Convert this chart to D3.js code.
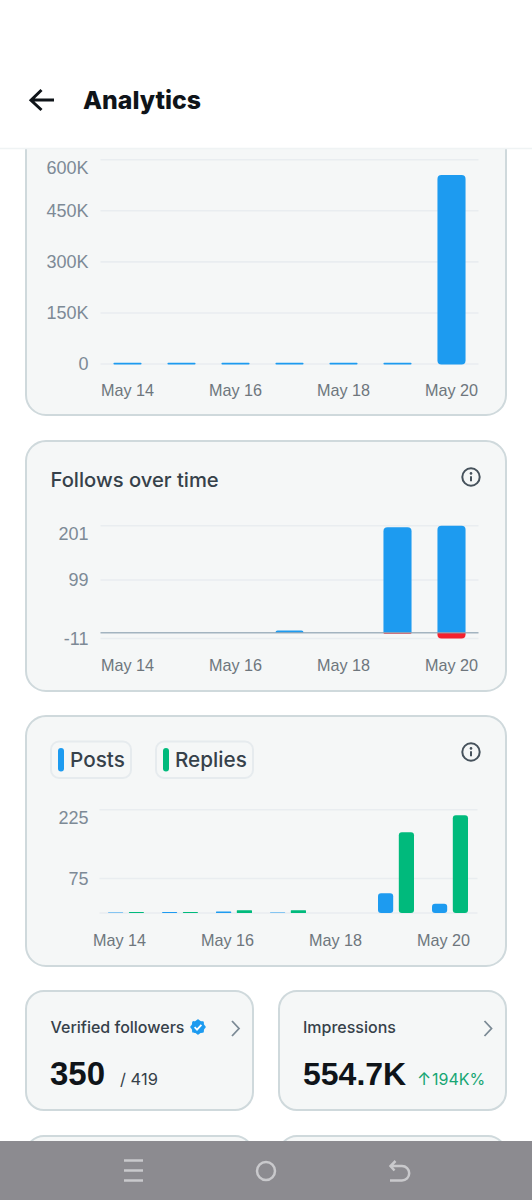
<!DOCTYPE html>
<html>
<head>
<meta charset="utf-8">
<title>Analytics</title>
<script src="https://cdn.jsdelivr.net/npm/d3@7"></script>
<style>
   html, body { margin: 0; padding: 0; background: #fff; }
   svg { display: block; font-family: Inter, "Noto Sans", sans-serif; }
   .card { fill: #f5f7f7; stroke: #cfd9dc; stroke-width: 2; }
   .grid { stroke: #e9edf0; stroke-width: 1.6; }
   .ylab { fill: #7d8a96; font-size: 18px; }
   .xlab { fill: #6e767d; font-size: 16.2px; }
</style>
</head>
<body>
<svg id="phone" width="532" height="1200"></svg>
<script>
var days = ["May 14", "May 15", "May 16", "May 17", "May 18", "May 19", "May 20"];
var dayTicks = ["May 14", "May 16", "May 18", "May 20"];

var impressions = [300, 300, 300, 300, 300, 4000, 554700];
var impressionTicks = [0, 150000, 300000, 450000, 600000];
var impressionLabels = ["0", "150K", "300K", "450K", "600K"];

var follows = [0, 0, 0, 4, 0, 198, 201];
var unfollows = [0, 0, 0, 0, 0, -2, -11];
var followTicks = [-11, 99, 201];

var posts = [1, 2, 3, 1, 0, 43, 20];
var replies = [2, 2, 6, 6, 0, 176, 213];
var postTicks = [0, 75, 225];

var blue = "#1d9bf0";
var green = "#00ba7c";
var red = "#f4212e";
var ink = "#0f1419";
var slate = "#36414a";

var svg = d3.select("#phone");

function text(x, y, str, size, weight, color, anchor) {
   return svg.append("text")
      .attr("x", x)
      .attr("y", y)
      .attr("font-size", size)
      .attr("font-weight", weight)
      .attr("fill", color)
      .attr("text-anchor", anchor || "start")
      .text(str);
}

function card(x, y, w, h, r) {
   svg.append("rect")
      .attr("class", "card")
      .attr("x", x).attr("y", y)
      .attr("width", w).attr("height", h)
      .attr("rx", r);
}

// gridlines and tick labels, first = top label gets pushed down inside the plot
function axes(g, x, y, yTicks, yLabels, xBase, xShift) {
   var yAxis = d3.axisLeft(y)
      .tickValues(yTicks)
      .tickSize(0)
      .tickPadding(0)
      .tickFormat(function(d, i) { return yLabels ? yLabels[i] : d; });
   var yg = g.append("g")
      .attr("transform", "translate(88.5,0)")
      .call(yAxis);
   yg.select(".domain").remove();
   yg.selectAll("text")
      .attr("class", "ylab")
      .attr("dy", function(d) { return d == d3.max(yTicks) ? "0.78em" : "0.33em"; });

   g.selectAll(".grid")
      .data(yTicks)
      .enter().append("line")
      .attr("class", "grid")
      .attr("x1", x.range()[0])
      .attr("x2", x.range()[1])
      .attr("y1", function(d) { return y(d); })
      .attr("y2", function(d) { return y(d); });

   var xAxis = d3.axisBottom(x)
      .tickValues(dayTicks)
      .tickSize(0)
      .tickPadding(0);
   var xg = g.append("g")
      .attr("transform", "translate(" + xShift + "," + xBase + ")")
      .call(xAxis);
   xg.select(".domain").remove();
   xg.selectAll("text")
      .attr("class", "xlab")
      .attr("dy", "0.36em");
}

function infoIcon(cx, cy) {
   var iconColor = "#46525c";
   svg.append("circle")
      .attr("cx", cx).attr("cy", cy).attr("r", 8.7)
      .attr("fill", "none").attr("stroke", iconColor).attr("stroke-width", 2);
   svg.append("circle")
      .attr("cx", cx).attr("cy", cy - 3.6).attr("r", 1.3)
      .attr("fill", iconColor);
   svg.append("line")
      .attr("x1", cx).attr("x2", cx)
      .attr("y1", cy - 0.8).attr("y2", cy + 4.2)
      .attr("stroke", iconColor).attr("stroke-width", 2);
}

// bar with only one end rounded (the follows chart sits on a baseline)
function capBar(x, w, yFlat, yEnd, r) {
   var p = d3.path();
   var s = yEnd < yFlat ? 1 : -1;
   var rr = Math.min(r, Math.abs(yFlat - yEnd));
   p.moveTo(x, yFlat);
   p.lineTo(x, yEnd + s * rr);
   p.quadraticCurveTo(x, yEnd, x + rr, yEnd);
   p.lineTo(x + w - rr, yEnd);
   p.quadraticCurveTo(x + w, yEnd, x + w, yEnd + s * rr);
   p.lineTo(x + w, yFlat);
   p.closePath();
   return p.toString();
}

// ---- impressions chart
card(26, 100, 480, 315, 20);
var g1 = svg.append("g");
var x1 = d3.scaleBand().domain(days).range([100.5, 478.5]).paddingInner(0.48).paddingOuter(0.24);
var y1 = d3.scaleLinear().domain([0, 600000]).range([364, 159.7]);
axes(g1, x1, y1, impressionTicks, impressionLabels, 390, 0);
g1.selectAll(".bar")
   .data(impressions)
   .enter().append("rect")
   .attr("class", "bar")
   .attr("x", function(d, i) { return x1(days[i]); })
   .attr("width", x1.bandwidth())
   .attr("y", function(d) { return Math.min(y1(d), 362.8); })
   .attr("height", function(d) { return Math.max(364.5 - y1(d), 1.7); })
   .attr("rx", function(d) { return d > 100000 ? 4 : 0.8; })
   .attr("fill", blue);

// ---- follows chart
card(26, 441, 480, 250, 20);
text(50.5, 487, "Follows over time", 20.2, 500, slate);
infoIcon(471, 477);
var g2 = svg.append("g");
var x2 = d3.scaleBand().domain(days).range([100.5, 478.5]).paddingInner(0.48).paddingOuter(0.24);
var y2 = d3.scaleLinear().domain([-11, 201]).range([638.5, 525.7]);
axes(g2, x2, y2, followTicks, null, 665, 0);
g2.selectAll(".gain")
   .data(follows)
   .enter().append("path")
   .attr("class", "gain")
   .attr("fill", blue)
   .attr("d", function(d, i) {
      return d > 0 ? capBar(x2(days[i]), x2.bandwidth(), y2(0), y2(d), 4) : null;
   });
g2.selectAll(".loss")
   .data(unfollows)
   .enter().append("path")
   .attr("class", "loss")
   .attr("fill", red)
   .attr("d", function(d, i) {
      return d < 0 ? capBar(x2(days[i]), x2.bandwidth(), y2(0), y2(d), 4) : null;
   });
g2.append("line")
   .attr("x1", 100.5).attr("x2", 478.5)
   .attr("y1", y2(0)).attr("y2", y2(0))
   .attr("stroke", "#8ea2b2").attr("stroke-opacity", 0.8).attr("stroke-width", 1.5);

// ---- posts and replies chart
card(26, 716, 480, 250, 20);
var chips = [
   { name: "Posts", x: 51, w: 80, color: blue },
   { name: "Replies", x: 156, w: 97, color: green }
];
chips.forEach(function(item) {
   svg.append("rect")
      .attr("x", item.x).attr("y", 741.5)
      .attr("width", item.w).attr("height", 36.5).attr("rx", 8)
      .attr("fill", "#f5f7f7").attr("stroke", "#e6ebee").attr("stroke-width", 2);
   svg.append("rect")
      .attr("x", item.x + 7).attr("y", 748)
      .attr("width", 6).attr("height", 23.5).attr("rx", 3)
      .attr("fill", item.color);
   text(item.x + 19, 767, item.name, 20.7, 500, slate);
});
infoIcon(471, 752);
var g3 = svg.append("g");
var x3 = d3.scaleBand().domain(days).range([99.5, 477.5]).paddingInner(0).paddingOuter(0);
var y3 = d3.scaleLinear().domain([0, 225]).range([913, 809.7]);
var inner = d3.scaleBand().domain(["posts", "replies"]).range([8.5, 44.5]).paddingInner(0.27);
axes(g3, x3, y3, postTicks.filter(function(d) { return d > 0; }), null, 940, -7);
g3.append("line")
   .attr("class", "grid")
   .attr("x1", 99.5).attr("x2", 477.5)
   .attr("y1", y3(postTicks[0])).attr("y2", y3(postTicks[0]));

function groupedBars(values, key, color) {
   g3.selectAll("." + key)
      .data(values)
      .enter().append("rect")
      .attr("class", key)
      .attr("x", function(d, i) { return x3(days[i]) + inner(key); })
      .attr("width", inner.bandwidth())
      .attr("y", function(d) { return y3(d); })
      .attr("height", function(d) { return y3(0) - y3(d); })
      .attr("rx", function(d) { return d > 10 ? 3 : 0.5; })
      .attr("fill", color);
}
groupedBars(posts, "posts", blue);
groupedBars(replies, "replies", green);

// ---- stat cards
card(26, 991, 227, 119, 18);
card(279, 991, 227, 119, 18);
card(26, 1136, 227, 60, 18);
card(279, 1136, 227, 60, 18);

text(50.5, 1032.5, "Verified followers", 16, 500, slate);
text(303, 1032.5, "Impressions", 16, 500, slate);

// verified badge, scalloped edge
var badge = d3.lineRadial()
   .angle(function(d) { return d * Math.PI / 8; })
   .radius(function(d) { return d % 2 ? 6.6 : 7.8; })
   .curve(d3.curveCardinalClosed);
svg.append("path")
   .attr("d", badge(d3.range(16)))
   .attr("transform", "translate(198,1027)")
   .attr("fill", blue);
svg.append("path")
   .attr("d", "M194.6 1027.2l2.4 2.4l4.4-4.8")
   .attr("fill", "none").attr("stroke", "#fff").attr("stroke-width", 1.8);

[232, 484.5].forEach(function(x) {
   svg.append("path")
      .attr("d", "M" + x + " 1021l7 7.5l-7 7.5")
      .attr("fill", "none").attr("stroke", "#7b8a95").attr("stroke-width", 1.8);
});

text(50, 1085, "350", 33, 700, ink).attr("font-family", "Liberation Sans, Arial, sans-serif");
text(120, 1085, "/ 419", 16.5, 400, slate);
text(303, 1085, "554.7K", 32, 700, ink).attr("font-family", "Liberation Sans, Arial, sans-serif");
text(417, 1085, "↑", 17, 400, "#17a673");
text(432, 1085, "194K%", 16, 400, "#17a673");

// ---- app bar
svg.append("rect")
   .attr("x", 0).attr("y", 0)
   .attr("width", 532).attr("height", 148)
   .attr("fill", "#fff");
svg.append("line")
   .attr("x1", 0).attr("x2", 532)
   .attr("y1", 148.5).attr("y2", 148.5)
   .attr("stroke", "#eff3f4").attr("stroke-width", 1.5);
svg.append("path")
   .attr("d", "M54 100H31.5M41.5 90L31 100.3L41.5 110")
   .attr("fill", "none").attr("stroke", ink).attr("stroke-width", 3);
text(83, 109, "Analytics", 24.8, 800, ink);

// ---- android nav bar
svg.append("rect")
   .attr("x", 0).attr("y", 1141)
   .attr("width", 532).attr("height", 59)
   .attr("fill", "#8c8b90");
var navColor = "#c9c9cc";
[1160.5, 1170.5, 1180.5].forEach(function(y) {
   svg.append("line")
      .attr("x1", 124).attr("x2", 143)
      .attr("y1", y).attr("y2", y)
      .attr("stroke", navColor).attr("stroke-width", 2.5);
});
svg.append("circle")
   .attr("cx", 266).attr("cy", 1171).attr("r", 9)
   .attr("fill", "none").attr("stroke", navColor).attr("stroke-width", 2.5);
svg.append("path")
   .attr("d", "M390 1180.5H402a7.2 7.2 0 0 0 0-14.4H391M395.5 1161l-5 5l4 4.5")
   .attr("fill", "none").attr("stroke", navColor).attr("stroke-width", 2.5);
</script>
</body>
</html>
